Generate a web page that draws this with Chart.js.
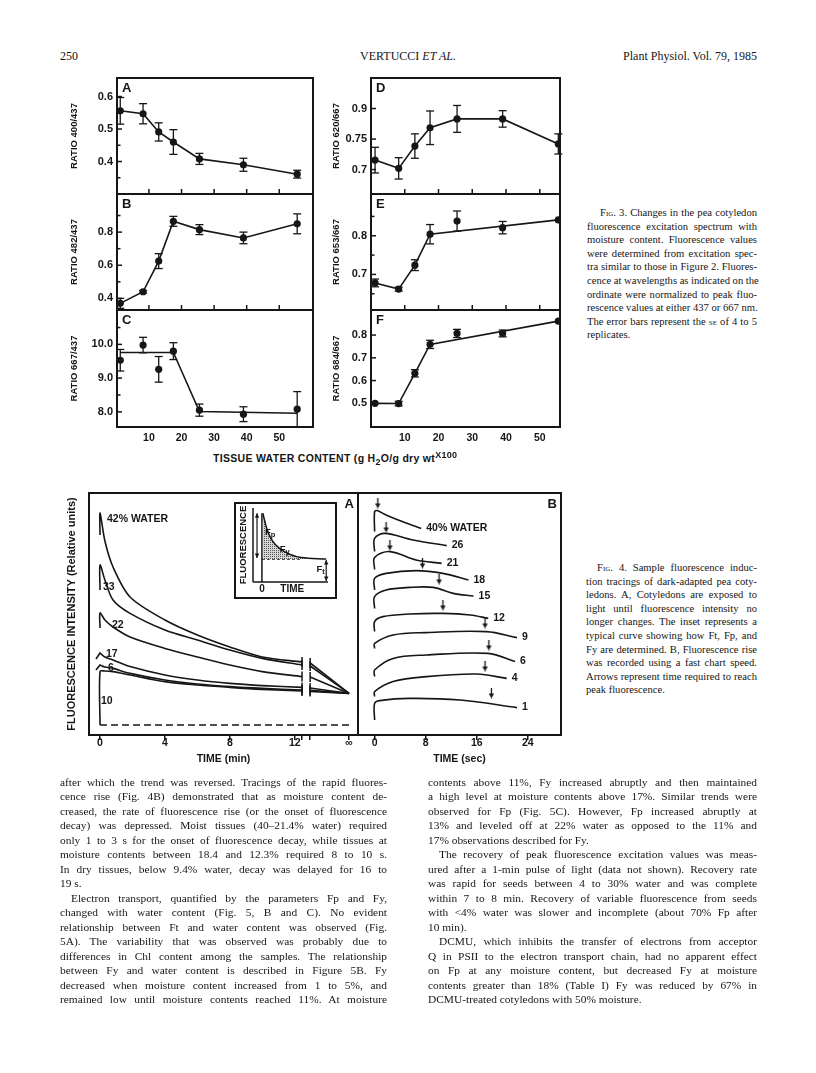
<!DOCTYPE html>
<html>
<head>
<meta charset="utf-8">
<script src="https://cdn.jsdelivr.net/npm/chart.js@4.4.1/dist/chart.umd.min.js"></script>
<style>
  body { margin: 0; background: #fff; }
  #page { position: relative; width: 816px; height: 1073px; overflow: hidden; color: #161616; background: #fff; }
  .abs { position: absolute; }
  .serif { font-family: "Liberation Serif", "Times New Roman", serif; }
  .sans { font-family: "Liberation Sans", Arial, sans-serif; font-weight: bold; }
  .sc { font-variant: small-caps; }
  .col { position: absolute; }
  .ln { white-space: nowrap; text-align: justify; text-align-last: justify; }
  .ln.end { text-align-last: left; }
  .body .ln { height: 14.47px; line-height: 14.47px; font-size: 11.4px; }
  .cap .ln { height: 13.6px; line-height: 13.6px; font-size: 10.6px; }
</style>
</head>
<body>
<div id="page">

  <!-- running head -->
  <div class="abs serif" style="left:60px; top:49px; font-size:12px;">250</div>
  <div class="abs serif" style="left:0; width:816px; top:49px; font-size:12px; text-align:center;">VERTUCCI <i>ET AL.</i></div>
  <div class="abs serif" style="right:59px; top:49px; font-size:12px;">Plant Physiol. Vol. 79, 1985</div>

  <!-- Fig. 3 panels -->
  <canvas id="panelA" class="abs" width="262" height="131" style="left:55px; top:68px;"></canvas>
  <canvas id="panelB" class="abs" width="262" height="131" style="left:55px; top:184px;"></canvas>
  <canvas id="panelC" class="abs" width="262" height="152" style="left:55px; top:300px;"></canvas>
  <canvas id="panelD" class="abs" width="245" height="131" style="left:320px; top:68px;"></canvas>
  <canvas id="panelE" class="abs" width="245" height="131" style="left:320px; top:184px;"></canvas>
  <canvas id="panelF" class="abs" width="245" height="152" style="left:320px; top:300px;"></canvas>

  <div class="abs sans" style="left:213px; top:452px; font-size:10.5px; letter-spacing:0.3px; white-space:nowrap;">TISSUE WATER CONTENT (g H<span style="position:relative; top:3px; font-size:9px;">2</span>O/g dry wt<span style="position:relative; top:-4px; font-size:9px;">X100</span></div>

  <!-- Fig. 3 caption -->
  <div class="col cap serif" style="left:587px; top:206px; width:170px;">
    <div class="ln" style="text-indent:13px;"><span class="sc">Fig.</span> 3. Changes in the pea cotyledon</div>
    <div class="ln">fluorescence excitation spectrum with</div>
    <div class="ln">moisture content. Fluorescence values</div>
    <div class="ln">were determined from excitation spec-</div>
    <div class="ln">tra similar to those in Figure 2. Fluores-</div>
    <div class="ln">cence at wavelengths as indicated on the</div>
    <div class="ln">ordinate were normalized to peak fluo-</div>
    <div class="ln">rescence values at either 437 or 667 nm.</div>
    <div class="ln">The error bars represent the <span class="sc">se</span> of 4 to 5</div>
    <div class="ln end">replicates.</div>
  </div>

  <!-- Fig. 4 panels -->
  <canvas id="fig4A" class="abs" width="303" height="290" style="left:60px; top:488px;"></canvas>
  <canvas id="fig4B" class="abs" width="213" height="290" style="left:353px; top:488px;"></canvas>
  <canvas id="inset" class="abs" width="103" height="97" style="left:234px; top:502px;"></canvas>

  <!-- Fig. 4 caption -->
  <div class="col cap serif" style="left:586px; top:561px; width:171px;">
    <div class="ln" style="text-indent:11px;"><span class="sc">Fig.</span> 4. Sample fluorescence induc-</div>
    <div class="ln">tion tracings of dark-adapted pea coty-</div>
    <div class="ln">ledons. A, Cotyledons are exposed to</div>
    <div class="ln">light until fluorescence intensity no</div>
    <div class="ln">longer changes. The inset represents a</div>
    <div class="ln">typical curve showing how Ft, Fp, and</div>
    <div class="ln">Fy are determined. B, Fluorescence rise</div>
    <div class="ln">was recorded using a fast chart speed.</div>
    <div class="ln">Arrows represent time required to reach</div>
    <div class="ln end">peak fluorescence.</div>
  </div>

  <!-- body text -->
  <div class="col body serif" style="left:60px; top:775px; width:327px;">
    <div class="ln">after which the trend was reversed. Tracings of the rapid fluores-</div>
    <div class="ln">cence rise (Fig. 4B) demonstrated that as moisture content de-</div>
    <div class="ln">creased, the rate of fluorescence rise (or the onset of fluorescence</div>
    <div class="ln">decay) was depressed. Moist tissues (40–21.4% water) required</div>
    <div class="ln">only 1 to 3 s for the onset of fluorescence decay, while tissues at</div>
    <div class="ln">moisture contents between 18.4 and 12.3% required 8 to 10 s.</div>
    <div class="ln">In dry tissues, below 9.4% water, decay was delayed for 16 to</div>
    <div class="ln end">19 s.</div>
    <div class="ln" style="text-indent:11px;">Electron transport, quantified by the parameters Fp and Fy,</div>
    <div class="ln">changed with water content (Fig. 5, B and C). No evident</div>
    <div class="ln">relationship between Ft and water content was observed (Fig.</div>
    <div class="ln">5A). The variability that was observed was probably due to</div>
    <div class="ln">differences in Chl content among the samples. The relationship</div>
    <div class="ln">between Fy and water content is described in Figure 5B. Fy</div>
    <div class="ln">decreased when moisture content increased from 1 to 5%, and</div>
    <div class="ln">remained low until moisture contents reached 11%. At moisture</div>
  </div>
  <div class="col body serif" style="left:428px; top:775px; width:329px;">
    <div class="ln">contents above 11%, Fy increased abruptly and then maintained</div>
    <div class="ln">a high level at moisture contents above 17%. Similar trends were</div>
    <div class="ln">observed for Fp (Fig. 5C). However, Fp increased abruptly at</div>
    <div class="ln">13% and leveled off at 22% water as opposed to the 11% and</div>
    <div class="ln end">17% observations described for Fy.</div>
    <div class="ln" style="text-indent:11px;">The recovery of peak fluorescence excitation values was meas-</div>
    <div class="ln">ured after a 1-min pulse of light (data not shown). Recovery rate</div>
    <div class="ln">was rapid for seeds between 4 to 30% water and was complete</div>
    <div class="ln">within 7 to 8 min. Recovery of variable fluorescence from seeds</div>
    <div class="ln">with &lt;4% water was slower and incomplete (about 70% Fp after</div>
    <div class="ln end">10 min).</div>
    <div class="ln" style="text-indent:11px;">DCMU, which inhibits the transfer of electrons from acceptor</div>
    <div class="ln">Q in PSII to the electron transport chain, had no apparent effect</div>
    <div class="ln">on Fp at any moisture content, but decreased Fy at moisture</div>
    <div class="ln">contents greater than 18% (Table I) Fy was reduced by 67% in</div>
    <div class="ln end">DCMU-treated cotyledons with 50% moisture.</div>
  </div>
</div>

<script>
const INK = '#161616';
const SANS = "'Liberation Sans', Arial, Helvetica, sans-serif";

// ---------------------------------------------------------------
// Fig. 3 data (x = tissue water content, g H2O/g dry wt x100)
// ---------------------------------------------------------------
const water3 = [1.2, 8.2, 13, 17.5, 25.5, 39, 55.5];
const waterTicks3 = [10, 20, 30, 40, 50];

const ratioA = [0.556, 0.547, 0.491, 0.460, 0.408, 0.390, 0.361];
const errA   = [0.041, 0.031, 0.028, 0.038, 0.017, 0.020, 0.012];
const ticksA = [0.4, 0.5, 0.6];
const minorA = [0.35, 0.45, 0.55];

const ratioB = [0.37, 0.44, 0.625, 0.865, 0.815, 0.765, 0.85];
const errB   = [0.03, 0.008, 0.045, 0.03, 0.03, 0.035, 0.06];
const ticksB = [0.4, 0.6, 0.8];
const minorB = [0.5, 0.7, 0.9];

const ratioC = [9.53, 9.98, 9.26, 9.80, 8.05, 7.93, 8.08];
const errC   = [0.32, 0.23, 0.38, 0.25, 0.18, 0.22, 0.52];
const fitWaterC = [1.2, 17.5, 25.5, 55.5];
const fitRatioC = [9.76, 9.76, 8.01, 7.96];
const ticksC = [8, 9, 10];
const minorC = [8.5, 9.5, 10.5];

const ratioD = [0.731, 0.704, 0.777, 0.837, 0.866, 0.866, 0.784];
const errD   = [0.042, 0.035, 0.040, 0.055, 0.044, 0.027, 0.033];
const ticksD = [0.7, 0.8, 0.9];
const tickTextD = ['0.7', '0.75', '0.9'];

const ratioE = [0.678, 0.662, 0.724, 0.804, 0.838, 0.821, 0.841];
const errE   = [0.010, 0.005, 0.014, 0.025, 0.026, 0.016, 0];
const fitIdxE = [0, 1, 2, 3, 6];
const ticksE = [0.7, 0.8];
const minorE = [0.65, 0.75, 0.85];

const ratioF = [0.500, 0.499, 0.632, 0.759, 0.807, 0.807, 0.861];
const errF   = [0, 0.010, 0.016, 0.018, 0.018, 0.015, 0];
const fitIdxF = [0, 1, 2, 3, 6];
const ticksF = [0.5, 0.6, 0.7, 0.8];

// ---------------------------------------------------------------
// Fig. 4A data (time in min, relative fluorescence)
// ---------------------------------------------------------------
const timeA = [-0.25, 0, 0, 0.3, 0.8, 1.85, 4, 6, 8, 10, 12.45, 12.7, 12.95, 15.35];
const fA42 = [null, 95, 106, 92, 79, 64, 52.5, 45, 39, 34, 31.5, null, 31, 15.8];
const fA33 = [null, 67.5, 80, 72.5, 62.5, 55.8, 47.5, 42.5, 37.5, 33.3, 30, null, 29.5, 15.8];
const fA22 = [null, 48.5, 56, 52.5, 49, 44, 38.3, 34, 30, 26.7, 24.2, null, 24, 15.8];
const fA17 = [33, 36, 36, 34, 32.5, 29.2, 25, 22.5, 20.8, 19.7, 18.8, null, 18.5, 15.8];
const fA6  = [27.5, 30, 30, 29, 28.3, 25.8, 22.5, 20.5, 19.2, 18.3, 17.5, null, 17.3, 15.8];
const fA10 = [null, 0, 26.7, 27, 26.7, 25, 21.7, 20, 18.8, 17.8, 17, null, 16.8, 15.8];
const labelsA = ['42% WATER', '33', '22', '17', '6', '10'];
const timeTicksA = [0, 4, 8, 12];
const breakTicksA = [12.45, 12.95];
const infTickA = 15.35;
const darkLevelA = 0;

// inset: typical decay curve
const insetT = [0.1, 0.55, 1.1, 2.0, 3.1, 4.4, 7.2];
const insetF = [9.3, 7.2, 5.7, 4.5, 3.75, 3.3, 3.1];
const insetFt = 3.1;
const insetTicks = [0, 3.4];
const insetTickText = ['0', 'TIME'];

// ---------------------------------------------------------------
// Fig. 4B data (time in s, relative fluorescence)
// ---------------------------------------------------------------
const b40t = [0, 0, 0.4, 1.8, 3.9, 6, 7.3];
const b40v = [101.7, 111.7, 112.2, 110, 107.2, 104.7, 103.3];
const b26t = [0, 0, 1.6, 6, 11.3];
const b26v = [91.7, 98.3, 100.8, 97.5, 94.7];
const b21t = [0, 0, 2.4, 6.5, 10.5];
const b21v = [82.8, 88.8, 91.7, 87.5, 85.8];
const b18t = [0, 0, 1.8, 6.5, 10.7, 14.7];
const b18v = [72.5, 78.3, 80.8, 82.2, 80.8, 77.5];
const b15t = [0, 0, 1.8, 5.5, 9.2, 12.3, 15.5];
const b15v = [63.3, 69.2, 72.5, 73.8, 73.8, 70.8, 69.5];
const b12t = [0, 0, 1.3, 5.5, 10.7, 15, 17.8];
const b12v = [51.7, 56.7, 59.2, 60.5, 60.8, 60, 58.3];
const b9t = [0, 0, 2.9, 8.1, 17.5, 22.3];
const b9v = [43.3, 45.8, 50, 51.2, 51.7, 48.7];
const b6t = [0, 0, 2.9, 8.1, 17.8, 22];
const b6v = [29.2, 32.5, 38.3, 40, 40.8, 36.7];
const b4t = [0, 0, 2.9, 8.1, 16, 20.7];
const b4v = [19.2, 21.7, 26.7, 29.2, 30.5, 28.3];
const b1t = [0, 0, 0.8, 5.5, 13.4, 22.3];
const b1v = [7.5, 15.8, 17.2, 18.3, 17.5, 13.7];
const labelsB = ['40% WATER', '26', '21', '18', '15', '12', '9', '6', '4', '1'];
const arrowTimesB = [0.5, 1.8, 2.4, 7.5, 10.1, 10.7, 17.3, 17.9, 17.3, 18.3];
const arrowLevelsB = [116, 104, 95, 86, 78, 65, 56, 45, 34.5, 21];
const timeTicksB = [0, 8, 16, 24];

// ---------------------------------------------------------------
Chart.defaults.font.family = SANS;
Chart.defaults.font.weight = 'bold';
Chart.defaults.color = INK;
Chart.defaults.animation = false;
Chart.defaults.responsive = false;
Chart.defaults.devicePixelRatio = 1;
Chart.defaults.plugins.legend.display = false;
Chart.defaults.plugins.tooltip.enabled = false;

function line(ctx, x1, y1, x2, y2) {
  ctx.beginPath(); ctx.moveTo(x1, y1); ctx.lineTo(x2, y2); ctx.stroke();
}

// per-canvas extras for the Fig. 3 panels
const panelCfg = {};

const panelPlugin = {
  id: 'panel',
  beforeDatasetsDraw(chart) {
    const cfg = panelCfg[chart.canvas.id];
    const { ctx, scales: { x, y } } = chart;
    ctx.save();
    ctx.strokeStyle = INK;
    ctx.lineWidth = 1.3;
    water3.forEach((w, i) => {
      const e = cfg.err[i];
      if (!e) return;
      const px = x.getPixelForValue(w);
      const top = y.getPixelForValue(cfg.vals[i] + e);
      const bot = y.getPixelForValue(cfg.vals[i] - e);
      line(ctx, px, top, px, bot);
      line(ctx, px - 4, top, px + 4, top);
      line(ctx, px - 4, bot, px + 4, bot);
    });
    ctx.restore();
  },
  afterDraw(chart) {
    const cfg = panelCfg[chart.canvas.id];
    const { ctx, chartArea: a, scales: { x, y } } = chart;
    ctx.save();
    ctx.strokeStyle = INK;
    ctx.fillStyle = INK;
    ctx.lineWidth = 2;
    ctx.strokeRect(a.left, a.top, a.right - a.left, a.bottom - a.top);
    ctx.lineWidth = 1.5;
    cfg.ticks.forEach(v => { const py = y.getPixelForValue(v); line(ctx, a.left, py, a.left + 5, py); });
    (cfg.minor || []).forEach(v => { const py = y.getPixelForValue(v); line(ctx, a.left, py, a.left + 3.5, py); });
    if (!cfg.showX) {
      waterTicks3.forEach(v => { const px = x.getPixelForValue(v); line(ctx, px, a.bottom, px, a.bottom - 5); });
    }
    ctx.font = `bold 13px ${SANS}`;
    ctx.textAlign = 'left';
    ctx.textBaseline = 'top';
    ctx.fillText(cfg.letter, a.left + 5, a.top + 4);
    ctx.restore();
  }
};

function ratioPanel(id, cfg) {
  panelCfg[id] = cfg;
  const datasets = [{
    data: water3.map((w, i) => ({ x: w, y: cfg.vals[i] })),
    showLine: !cfg.fit,
    borderColor: INK,
    borderWidth: 1.6,
    pointRadius: 3.6,
    pointBackgroundColor: INK,
    pointBorderWidth: 0,
    tension: 0
  }];
  if (cfg.fit) {
    datasets.push({
      data: cfg.fit,
      showLine: true,
      borderColor: INK,
      borderWidth: 1.6,
      pointRadius: 0,
      tension: 0
    });
  }
  new Chart(document.getElementById(id), {
    type: 'scatter',
    data: { datasets },
    options: {
      layout: { padding: { top: 10, right: cfg.padRight, bottom: cfg.showX ? 0 : 5, left: 0 } },
      scales: {
        x: {
          type: 'linear', min: cfg.xMin, max: cfg.xMax, display: cfg.showX,
          afterBuildTicks: s => { s.ticks = waterTicks3.map(v => ({ value: v })); },
          afterFit: s => { s.height = cfg.showX ? 25 : 0; },
          grid: { display: false, drawTicks: false },
          border: { display: false },
          ticks: { font: { size: 10.5, weight: 'bold' }, padding: 5, color: INK, maxRotation: 0, autoSkip: false }
        },
        y: {
          min: cfg.yMin, max: cfg.yMax,
          afterBuildTicks: s => { s.ticks = cfg.ticks.map(v => ({ value: v })); },
          afterFit: s => { s.width = cfg.yWidth; s.paddingTop = 0; s.paddingBottom = 0; },
          grid: { display: false, drawTicks: false },
          border: { display: false },
          ticks: {
            font: { size: 11, weight: 'bold' }, padding: 4, color: INK,
            callback: (v, i) => cfg.tickText ? cfg.tickText[i] : v.toFixed(1)
          },
          title: {
            display: true, text: cfg.title, color: INK,
            font: { size: 9.5, weight: 'bold' }, padding: { top: cfg.titlePad, bottom: 0 }
          }
        }
      }
    },
    plugins: [panelPlugin]
  });
}

const leftCol = { xMin: 0.2, xMax: 60.35, yWidth: 62, padRight: 3, titlePad: 14 };
const rightCol = { xMin: 0, xMax: 56, yWidth: 51, padRight: 5, titlePad: 11 };

ratioPanel('panelA', { ...leftCol, letter: 'A', title: 'RATIO 400/437', vals: ratioA, err: errA,
  yMin: 0.30, yMax: 0.657, ticks: ticksA, minor: minorA, showX: false });
ratioPanel('panelB', { ...leftCol, letter: 'B', title: 'RATIO 482/437', vals: ratioB, err: errB,
  yMin: 0.33, yMax: 1.03, ticks: ticksB, minor: minorB, showX: false });
ratioPanel('panelC', { ...leftCol, letter: 'C', title: 'RATIO 667/437', vals: ratioC, err: errC,
  yMin: 7.55, yMax: 11.02, ticks: ticksC, minor: minorC, showX: true,
  fit: fitWaterC.map((w, i) => ({ x: w, y: fitRatioC[i] })) });
ratioPanel('panelD', { ...rightCol, letter: 'D', title: 'RATIO 620/667', vals: ratioD, err: errD,
  yMin: 0.62, yMax: 1.0, ticks: ticksD, tickText: tickTextD, showX: false });
ratioPanel('panelE', { ...rightCol, letter: 'E', title: 'RATIO 653/667', vals: ratioE, err: errE,
  yMin: 0.608, yMax: 0.908, ticks: ticksE, minor: minorE, showX: false,
  fit: fitIdxE.map(i => ({ x: water3[i], y: ratioE[i] })) });
ratioPanel('panelF', { ...rightCol, letter: 'F', title: 'RATIO 684/667', vals: ratioF, err: errF,
  yMin: 0.396, yMax: 0.91, ticks: ticksF, showX: true,
  fit: fitIdxF.map(i => ({ x: water3[i], y: ratioF[i] })) });

// ---------------------------------------------------------------
// Fig. 4
// ---------------------------------------------------------------
const fig4Cfg = {};

const fig4Plugin = {
  id: 'fig4',
  afterDatasetsDraw(chart) {
    const cfg = fig4Cfg[chart.canvas.id];
    const { ctx, chartArea: a } = chart;
    ctx.save();
    ctx.fillStyle = INK;
    ctx.strokeStyle = INK;
    ctx.font = `bold 10.5px ${SANS}`;
    ctx.textAlign = 'left';
    ctx.textBaseline = 'middle';
    cfg.labels.forEach((text, i) => {
      const pts = chart.getDatasetMeta(i).data;
      const pt = pts[cfg.anchor === 'last' ? pts.length - 1 : cfg.anchor];
      const off = cfg.offsets ? cfg.offsets[i] : [5, 0];
      ctx.fillText(text, pt.x + off[0], pt.y + off[1]);
    });
    ctx.lineWidth = 2;
    ctx.strokeRect(a.left, a.top, a.right - a.left, a.bottom - a.top);
    ctx.font = `bold 13px ${SANS}`;
    ctx.textAlign = 'right';
    ctx.textBaseline = 'top';
    ctx.fillText(cfg.letter, a.right - 4, a.top + 5);
    ctx.restore();
  }
};

const capIdx = [timeA.indexOf(breakTicksA[0]), timeA.indexOf(breakTicksA[1])];

function curveA(vals) {
  return {
    data: timeA.map((t, i) => ({ x: t, y: vals[i] })),
    showLine: true, spanGaps: false,
    borderColor: INK, borderWidth: 1.6, tension: 0.3,
    pointStyle: 'line', rotation: 90,
    pointRadius: c => capIdx.includes(c.dataIndex) ? 5 : 0,
    pointBorderColor: INK, pointBorderWidth: 1.5
  };
}

fig4Cfg.fig4A = {
  letter: 'A', labels: labelsA, anchor: 2,
  offsets: [[7, 6], [3, 22], [12, 12], [6, 1], [8, 3], [1, 30]]
};

new Chart(document.getElementById('fig4A'), {
  type: 'scatter',
  data: {
    datasets: [
      curveA(fA42), curveA(fA33), curveA(fA22), curveA(fA17), curveA(fA6), curveA(fA10),
      {
        data: [{ x: timeA[1], y: darkLevelA }, { x: infTickA, y: darkLevelA }],
        showLine: true, borderColor: INK, borderWidth: 1.5, borderDash: [7, 4], pointRadius: 0
      }
    ]
  },
  options: {
    layout: { padding: { top: 5, right: 5, bottom: 0, left: 0 } },
    scales: {
      x: {
        type: 'linear', min: -0.68, max: 15.9,
        afterBuildTicks: s => { s.ticks = [...timeTicksA, ...breakTicksA, infTickA].map(v => ({ value: v })); },
        afterFit: s => { s.height = 43; },
        grid: { display: true, drawOnChartArea: false, drawTicks: true, tickLength: 5, color: INK, lineWidth: 1.5 },
        border: { display: false },
        ticks: {
          font: { size: 10.5, weight: 'bold' }, padding: -3, color: INK, maxRotation: 0, autoSkip: false,
          callback: v => timeTicksA.includes(v) ? String(v) : (v === infTickA ? '∞' : '')
        },
        title: { display: true, text: 'TIME (min)', color: INK, font: { size: 10.5, weight: 'bold' }, padding: { top: 0, bottom: 13 } }
      },
      y: {
        min: -5, max: 116,
        afterFit: s => { s.width = 29; },
        grid: { display: false, drawTicks: false },
        border: { display: false },
        ticks: { display: false },
        title: {
          display: true, text: 'FLUORESCENCE INTENSITY (Relative units)', color: INK,
          font: { size: 11, weight: 'bold' }, padding: { top: 5, bottom: 0 }
        }
      }
    }
  },
  plugins: [fig4Plugin]
});

// inset schematic
function stipple() {
  const c = document.createElement('canvas');
  c.width = 2; c.height = 2;
  const g = c.getContext('2d');
  g.fillStyle = '#d6d6d6'; g.fillRect(0, 0, 2, 2);
  g.fillStyle = '#555'; g.fillRect(0, 0, 1, 1);
  return g.createPattern(c, 'repeat');
}

function doubleArrow(ctx, x, y1, y2) {
  line(ctx, x, y1, x, y2);
  const dir = y2 > y1 ? 1 : -1;
  [[y1, dir], [y2, -dir]].forEach(([yy, d]) => {
    ctx.beginPath();
    ctx.moveTo(x, yy);
    ctx.lineTo(x - 2.2, yy + d * 4.5);
    ctx.lineTo(x + 2.2, yy + d * 4.5);
    ctx.closePath();
    ctx.fill();
  });
}

function subLabel(ctx, main, sub, x, y) {
  ctx.font = `bold 9.5px ${SANS}`;
  ctx.fillText(main, x, y);
  const w = ctx.measureText(main).width;
  ctx.font = `bold 7.5px ${SANS}`;
  ctx.fillText(sub, x + w, y + 2.5);
}

const insetPlugin = {
  id: 'insetDecor',
  beforeDraw(chart) {
    const { ctx, width, height } = chart;
    ctx.save();
    ctx.fillStyle = '#fff';
    ctx.fillRect(0, 0, width, height);
    ctx.restore();
  },
  afterDraw(chart) {
    const { ctx, chartArea: a, scales: { x, y }, width, height } = chart;
    ctx.save();
    ctx.strokeStyle = INK;
    ctx.fillStyle = INK;
    ctx.lineWidth = 2;
    ctx.strokeRect(1, 1, width - 2, height - 2);
    ctx.lineWidth = 1.5;
    line(ctx, a.left, a.top, a.left, a.bottom);
    line(ctx, a.left, a.bottom, a.right, a.bottom);
    ctx.lineWidth = 1.2;
    doubleArrow(ctx, x.getPixelForValue(-0.55), y.getPixelForValue(insetF[0]), y.getPixelForValue(insetFt) - 1);
    doubleArrow(ctx, x.getPixelForValue(insetT[insetT.length - 1]), y.getPixelForValue(insetFt) + 1, a.bottom - 1);
    ctx.textAlign = 'left';
    ctx.textBaseline = 'middle';
    subLabel(ctx, 'F', 'p', x.getPixelForValue(0.35), y.getPixelForValue(6.7));
    subLabel(ctx, 'F', 'y', x.getPixelForValue(2.0), y.getPixelForValue(4.4));
    subLabel(ctx, 'F', 't', x.getPixelForValue(6.1), y.getPixelForValue(1.7));
    ctx.restore();
  }
};

new Chart(document.getElementById('inset'), {
  type: 'scatter',
  data: {
    datasets: [
      {
        data: insetT.map((t, i) => ({ x: t, y: insetF[i] })),
        showLine: true, borderColor: INK, borderWidth: 1.5, tension: 0.35, pointRadius: 0,
        fill: { value: insetFt }, backgroundColor: stipple()
      },
      {
        data: [{ x: 0, y: insetFt }, { x: insetT[5], y: insetFt }],
        showLine: true, borderColor: INK, borderWidth: 1.2, borderDash: [3, 2], pointRadius: 0
      },
      {
        data: [{ x: 0, y: 0 }, { x: 0, y: insetF[0] }],
        showLine: true, borderColor: INK, borderWidth: 1.5, pointRadius: 0
      }
    ]
  },
  options: {
    layout: { padding: { top: 6, right: 9, bottom: 0, left: 0 } },
    scales: {
      x: {
        type: 'linear', min: -1, max: 7.4,
        afterBuildTicks: s => { s.ticks = insetTicks.map(v => ({ value: v })); },
        afterFit: s => { s.height = 17; },
        grid: { display: false, drawTicks: false },
        border: { display: false },
        ticks: { font: { size: 10, weight: 'bold' }, padding: 1, color: INK, maxRotation: 0, autoSkip: false,
                 callback: (v, i) => insetTickText[i] }
      },
      y: {
        min: 0, max: 10,
        afterFit: s => { s.width = 19; },
        grid: { display: false, drawTicks: false },
        border: { display: false },
        ticks: { display: false },
        title: { display: true, text: 'FLUORESCENCE', color: INK, font: { size: 9.5, weight: 'bold' }, padding: { top: 3.5, bottom: 0 } }
      }
    }
  },
  plugins: [insetPlugin]
});

// Fig. 4B
function arrowGlyph() {
  const c = document.createElement('canvas');
  c.width = 7; c.height = 11;
  const g = c.getContext('2d');
  g.strokeStyle = INK; g.fillStyle = INK; g.lineWidth = 1.3;
  g.beginPath(); g.moveTo(3.5, 0); g.lineTo(3.5, 7); g.stroke();
  g.beginPath(); g.moveTo(0.8, 6); g.lineTo(6.2, 6); g.lineTo(3.5, 11); g.closePath(); g.fill();
  return c;
}

function traceB(t, v) {
  return {
    data: t.map((tt, i) => ({ x: tt, y: v[i] })),
    showLine: true, borderColor: INK, borderWidth: 1.6, tension: 0.35, pointRadius: 0
  };
}

fig4Cfg.fig4B = { letter: 'B', labels: labelsB, anchor: 'last' };

new Chart(document.getElementById('fig4B'), {
  type: 'scatter',
  data: {
    datasets: [
      traceB(b40t, b40v), traceB(b26t, b26v), traceB(b21t, b21v), traceB(b18t, b18v), traceB(b15t, b15v),
      traceB(b12t, b12v), traceB(b9t, b9v), traceB(b6t, b6v), traceB(b4t, b4v), traceB(b1t, b1v),
      {
        data: arrowTimesB.map((t, i) => ({ x: t, y: arrowLevelsB[i] })),
        showLine: false, pointStyle: arrowGlyph(), pointRadius: 4
      }
    ]
  },
  options: {
    layout: { padding: { top: 5, right: 5, bottom: 0, left: 5 } },
    scales: {
      x: {
        type: 'linear', min: -2.6, max: 29.2,
        afterBuildTicks: s => { s.ticks = timeTicksB.map(v => ({ value: v })); },
        afterFit: s => { s.height = 43; },
        grid: { display: true, drawOnChartArea: false, drawTicks: true, tickLength: 5, color: INK, lineWidth: 1.5 },
        border: { display: false },
        ticks: { font: { size: 10.5, weight: 'bold' }, padding: -3, color: INK, maxRotation: 0, autoSkip: false },
        title: { display: true, text: 'TIME (sec)', color: INK, font: { size: 10.5, weight: 'bold' }, padding: { top: 0, bottom: 13 } }
      },
      y: { min: 0, max: 121, display: false }
    }
  },
  plugins: [fig4Plugin]
});
</script>
</body>
</html>
